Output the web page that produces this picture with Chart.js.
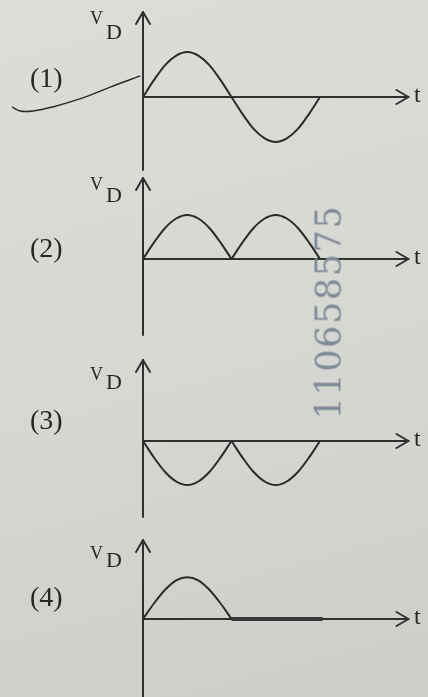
<!DOCTYPE html>
<html>
<head>
<meta charset="utf-8">
<script src="https://cdn.jsdelivr.net/npm/chart.js@4"></script>
<style>
html, body { margin: 0; padding: 0; }
body {
    width: 428px; height: 697px; position: relative; overflow: hidden;
    background: linear-gradient(165deg, #dcdcd9 0%, #d6d6d3 55%, #cdcdca 100%);
    font-family: "Liberation Serif", serif; color: #262626;
}
canvas { position: absolute; left: 0; top: 0; }
.lbl { position: absolute; line-height: 1; white-space: nowrap; }
.num { font-size: 28px; left: 30px; }
.v { font-size: 18px; left: 90px; }
.d { font-size: 22px; left: 106px; }
.t { font-size: 24px; left: 414px; }
#mark {
    position: absolute; left: 329px; top: 312px;
    transform: translate(-50%, -50%) rotate(-90deg);
    font-family: "DejaVu Serif", serif; font-size: 35px; letter-spacing: 1.6px;
    color: #808a97; line-height: 1; white-space: nowrap;
}
</style>
</head>
<body>
<canvas id="c1" width="428" height="697"></canvas>
<canvas id="c2" width="428" height="697"></canvas>
<canvas id="c3" width="428" height="697"></canvas>
<canvas id="c4" width="428" height="697"></canvas>

<div class="lbl v" style="top:9px">V</div><div class="lbl d" style="top:21px">D</div>
<div class="lbl num" style="top:64px">(1)</div>
<div class="lbl t" style="top:82px">t</div>

<div class="lbl v" style="top:175px">V</div><div class="lbl d" style="top:184px">D</div>
<div class="lbl num" style="top:234px">(2)</div>
<div class="lbl t" style="top:244px">t</div>

<div class="lbl v" style="top:365px">V</div><div class="lbl d" style="top:371px">D</div>
<div class="lbl num" style="top:406px">(3)</div>
<div class="lbl t" style="top:426px">t</div>

<div class="lbl v" style="top:544px">V</div><div class="lbl d" style="top:549px">D</div>
<div class="lbl num" style="top:583px">(4)</div>
<div class="lbl t" style="top:604px">t</div>

<div id="mark">110658575</div>

<script>
// time in half-periods, sampled every 1/8 of a half-period
const tValues = [0, 0.125, 0.25, 0.375, 0.5, 0.625, 0.75, 0.875, 1,
                 1.125, 1.25, 1.375, 1.5, 1.625, 1.75, 1.875, 2];

// (1) full sine
const sineV = [0, 0.38, 0.71, 0.92, 1, 0.92, 0.71, 0.38, 0,
               -0.38, -0.71, -0.92, -1, -0.92, -0.71, -0.38, 0];
// (2) positive humps
const humpsUpV = [0, 0.37, 0.69, 0.9, 0.98, 0.9, 0.69, 0.37, 0,
                  0.37, 0.69, 0.9, 0.98, 0.9, 0.69, 0.37, 0];
// (3) negative humps
const humpsDownV = [0, -0.37, -0.69, -0.9, -0.98, -0.9, -0.69, -0.37, 0,
                    -0.37, -0.69, -0.9, -0.98, -0.9, -0.69, -0.37, 0];
// (4) one hump then flat (thick) line
const halfWaveV = [0, 0.35, 0.65, 0.86, 0.93, 0.86, 0.65, 0.35, 0];
const flatT = [1, 2.03];
const flatV = [0, 0];

// pen stroke crossing panel (1)
const penT = [-1.48, -1.39, -1.24, -1.02, -0.68, -0.37, -0.03];
const penV = [-0.22, -0.31, -0.31, -0.22, -0.02, 0.22, 0.47];

const W = 428, H = 697;
const ORIGIN_X = 143;
const PX_PER_T = 88.5;
const PX_PER_V = 45;
const T_ARROW = 3.0;
const INK = '#2b2b2b';

function pts(ts, vs) {
    return ts.map((t, i) => ({x: t, y: vs[i]}));
}

function curve(points, width) {
    return {
        data: points,
        borderColor: INK,
        borderWidth: width || 2,
        pointRadius: 0,
        cubicInterpolationMode: 'monotone',
        fill: false,
        clip: false,
    };
}

const axesPlugin = {
    id: 'vdAxes',
    beforeDatasetsDraw(chart, args, opts) {
        const {ctx, scales: {x, y}} = chart;
        const x0 = x.getPixelForValue(0);
        const y0 = y.getPixelForValue(0);
        const xEnd = x.getPixelForValue(T_ARROW);
        ctx.save();
        ctx.strokeStyle = '#303030';
        ctx.lineWidth = 2;
        ctx.lineCap = 'round';
        ctx.lineJoin = 'round';
        ctx.beginPath();
        ctx.moveTo(x0, opts.bottom);
        ctx.lineTo(x0, opts.top);
        ctx.moveTo(x0, y0);
        ctx.lineTo(xEnd, y0);
        ctx.stroke();
        ctx.beginPath();
        ctx.moveTo(x0 - 7, opts.top + 12);
        ctx.lineTo(x0, opts.top);
        ctx.lineTo(x0 + 7, opts.top + 12);
        ctx.moveTo(xEnd - 12, y0 - 7);
        ctx.lineTo(xEnd, y0);
        ctx.lineTo(xEnd - 12, y0 + 7);
        ctx.stroke();
        ctx.restore();
    }
};

function makePanel(id, axisY, top, bottom, datasets) {
    new Chart(document.getElementById(id), {
        type: 'scatter',
        data: {datasets: datasets},
        options: {
            responsive: false,
            animation: false,
            devicePixelRatio: 1,
            showLine: true,
            layout: {padding: 0},
            scales: {
                x: {type: 'linear', display: false,
                    min: -ORIGIN_X / PX_PER_T, max: (W - ORIGIN_X) / PX_PER_T},
                y: {type: 'linear', display: false,
                    min: -(H - axisY) / PX_PER_V, max: axisY / PX_PER_V},
            },
            plugins: {
                legend: {display: false},
                tooltip: {enabled: false},
                vdAxes: {top: top, bottom: bottom},
            },
        },
        plugins: [axesPlugin],
    });
}

makePanel('c1', 97, 12, 170, [
    curve(pts(tValues, sineV)),
    Object.assign(curve(pts(penT, penV), 1.5), {cubicInterpolationMode: 'default', tension: 0.4}),
]);
makePanel('c2', 259, 178, 335, [
    curve(pts(tValues.slice(0, 9), humpsUpV.slice(0, 9))),
    curve(pts(tValues.slice(8), humpsUpV.slice(8))),
]);
makePanel('c3', 441, 360, 517, [
    curve(pts(tValues.slice(0, 9), humpsDownV.slice(0, 9))),
    curve(pts(tValues.slice(8), humpsDownV.slice(8))),
]);
makePanel('c4', 619, 540, 700, [
    curve(pts(tValues.slice(0, 9), halfWaveV)),
    Object.assign(curve(pts(flatT, flatV), 4), {borderColor: '#3a3a3a'}),
]);
</script>
</body>
</html>
